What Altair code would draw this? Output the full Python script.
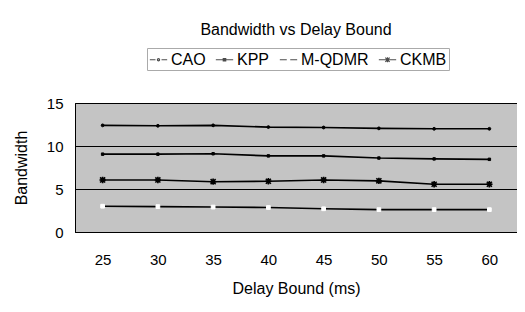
import altair as alt
import pandas as pd

delays = [25, 30, 35, 40, 45, 50, 55, 60]
series = ["CAO", "KPP", "M-QDMR", "CKMB"]
cao = [12.4, 12.35, 12.4, 12.2, 12.15, 12.05, 12.0, 12.0]
kpp = [9.05, 9.05, 9.1, 8.85, 8.85, 8.6, 8.5, 8.45]
mqdmr = [3.0, 2.95, 2.9, 2.85, 2.7, 2.6, 2.6, 2.6]
ckmb = [6.05, 6.05, 5.85, 5.9, 6.05, 5.95, 5.55, 5.55]

values = {"CAO": cao, "KPP": kpp, "M-QDMR": mqdmr, "CKMB": ckmb}
rows = []
for s in series:
    for d, v in zip(delays, values[s]):
        rows.append({"delay": d, "bw": v, "series": s})
df = pd.DataFrame(rows)

FONT = "Liberation Sans"

marker_style = {
    "CAO": dict(shape="circle", color="black", size=8, strokeWidth=1),
    "KPP": dict(shape="square", color="black", size=6, strokeWidth=1),
    "M-QDMR": dict(shape="square", color="white", size=14, strokeWidth=1),
    "CKMB": dict(shape="M-1,0H1M0,-1V1M-0.8,-0.8L0.8,0.8M-0.8,0.8L0.8,-0.8M-0.45,-0.45H0.45V0.45H-0.45Z",
                 color="black", size=40, strokeWidth=1.6),
}

legend_paths = [
    "M-1,0H-0.35M0.35,0H1M-0.12,0A0.12,0.12 0 1,0 0.12,0A0.12,0.12 0 1,0 -0.12,0Z",
    "M-1,0H1M-0.14,-0.14H0.14V0.14H-0.14Z",
    "M-1,0H-0.2M0.2,0H1",
    "M-1,0H1M-0.25,-0.25L0.25,0.25M-0.25,0.25L0.25,-0.25M0,-0.3V0.3",
]

x = alt.X(
    "delay:O",
    title="Delay Bound (ms)",
    axis=alt.Axis(labelAngle=0, ticks=False, labelPadding=20, titlePadding=13,
                  domainColor="black", labelFontSize=15, titleFontSize=16,
                  labelFont=FONT, titleFont=FONT, titleFontWeight="normal",
                  labelColor="black", titleColor="black", grid=False),
)
y = alt.Y(
    "bw:Q",
    title="Bandwidth",
    scale=alt.Scale(domain=[0, 15]),
    axis=alt.Axis(values=[0, 5, 10, 15], ticks=False, labelPadding=12,
                  titlePadding=17, grid=True, gridColor="black", gridWidth=1,
                  gridOpacity=1, domainColor="black", labelFontSize=15,
                  titleFontSize=16, labelFont=FONT, titleFont=FONT,
                  titleFontWeight="normal", labelColor="black", titleColor="black"),
)

base = alt.Chart(df).encode(x=x, y=y)

lines = base.mark_line(color="black", strokeWidth=1.6).encode(detail="series:N")

point_layers = []
for s in series:
    st = marker_style[s]
    point_layers.append(
        base.transform_filter(alt.datum.series == s).mark_point(
            shape=st["shape"], filled=True, fill=st["color"], stroke=st["color"],
            size=st["size"], strokeWidth=st["strokeWidth"], opacity=1,
        )
    )

legend_layer = base.mark_point(filled=False, color="black", size=0, strokeWidth=1.2).encode(
    shape=alt.Shape(
        "series:N",
        scale=alt.Scale(domain=series, range=legend_paths),
        legend=alt.Legend(
            title=None, orient="none", direction="horizontal",
            legendX=72, legendY=-55, symbolSize=300,
            symbolFillColor="black", symbolStrokeColor="black",
            symbolStrokeWidth=1.2, labelFontSize=16, labelFont=FONT,
            labelColor="black", columnPadding=7, labelOffset=3,
            strokeColor="#aaaaaa", padding=2,
        ),
    ),
)

chart = (
    alt.layer(lines, *point_layers, legend_layer)
    .properties(
        width=442, height=129,
        autosize=alt.AutoSizeParams(type="none"),
        padding={"left": 67, "top": 95, "right": 0, "bottom": 72},
        title=alt.TitleParams("Bandwidth vs Delay Bound", fontSize=16, font=FONT,
                              fontWeight="normal", color="black", offset=10),
        background="white",
    )
    .configure_view(fill="#c4c4c4", stroke="black", strokeWidth=1)
)

chart.save("out.html", embed_options={"renderer": "svg", "actions": False})
